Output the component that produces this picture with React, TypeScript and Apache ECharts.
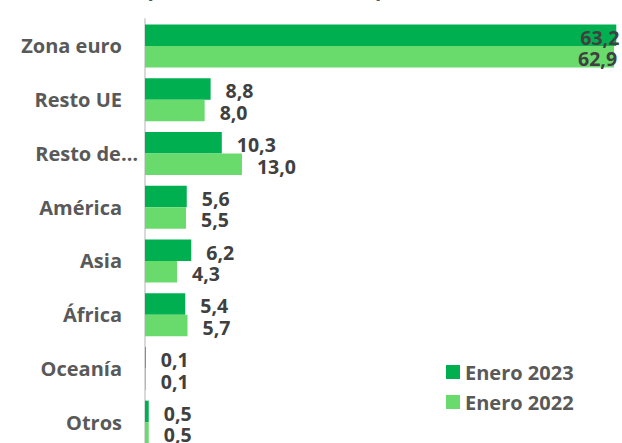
import React, { useEffect, useRef } from "react";
import * as echarts from "echarts";

const categories = ["Zona euro", "Resto UE", "Resto del mundo", "América", "Asia", "África", "Oceanía", "Otros"];
const shownCategories = ["Zona euro", "Resto UE", "Resto de…", "América", "Asia", "África", "Oceanía", "Otros"];
const enero2023 = [63.2, 8.8, 10.3, 5.6, 6.2, 5.4, 0.1, 0.5];
const enero2022 = [62.9, 8.0, 13.0, 5.5, 4.3, 5.7, 0.1, 0.5];
const seriesNames = ["Enero 2023", "Enero 2022"];
const titleParts = ["Exportaciones de bienes", "por zonas", "(% sobre total)"];

const FONT = "'Open Sans', sans-serif";

export default function App() {
  const ref = useRef<HTMLDivElement>(null);
  useEffect(() => {
    if (!ref.current) return;
    const chart = echarts.init(ref.current, undefined, { renderer: "svg" });
    const fmt = (v: number) => v.toFixed(1).replace(".", ",");
    const makeData = (arr: number[]) =>
      arr.map((v, i) =>
        i === 0
          ? { value: v, label: { position: "insideRight", distance: -3 } }
          : { value: v }
      );
    const labelCfg = {
      show: true,
      position: "right",
      distance: 15,
      offset: [0, 2],
      fontFamily: FONT,
      fontWeight: "bold",
      fontSize: 19.5,
      color: "#404040",
      formatter: (p: any) => fmt(p.value),
    };
    const titleX = [124, 375, 473];
    chart.setOption({
      animation: false,
      backgroundColor: "#ffffff",
      graphic: titleParts.map((t, i) => ({
        type: "text",
        x: titleX[i],
        y: -2,
        style: {
          text: t,
          fontFamily: FONT,
          fontWeight: "bold",
          fontSize: 20.6,
          fill: "#595959",
          verticalAlign: "bottom",
        },
      })),
      grid: { left: 145, top: 19, width: 522, height: 430, containLabel: false },
      xAxis: {
        type: "value",
        min: 0,
        max: 70,
        show: false,
      },
      yAxis: {
        type: "category",
        inverse: true,
        data: categories,
        axisLine: { show: true, lineStyle: { color: "#D9D9D9", width: 2 } },
        axisTick: { show: false },
        splitLine: { show: false },
        axisLabel: {
          margin: 7,
          formatter: (v: string) => {
            const i = categories.indexOf(v);
            const t = shownCategories[i];
            return i === 2 ? `{t|${t}}` : `{n|${t}}`;
          },
          rich: {
            t: { fontFamily: FONT, fontWeight: "bold", fontSize: 20, color: "#595959" },
            n: { fontFamily: FONT, fontWeight: "bold", fontSize: 20, color: "#595959", padding: [0, 16, 0, 0] },
          },
        },
      },
      legend: {
        orient: "vertical",
        left: 441,
        top: 357,
        itemWidth: 14,
        itemHeight: 14,
        itemGap: 10,
        icon: "rect",
        textStyle: { fontFamily: FONT, fontWeight: "bold", fontSize: 20, color: "#595959" },
        data: seriesNames,
      },
      series: [
        {
          name: seriesNames[0],
          type: "bar",
          data: makeData(enero2023),
          barWidth: 21.5,
          barGap: "0%",
          itemStyle: { color: "#00B050" },
          label: labelCfg,
        },
        {
          name: seriesNames[1],
          type: "bar",
          data: makeData(enero2022),
          barWidth: 21.5,
          barGap: "0%",
          itemStyle: { color: "#68DB6C" },
          label: labelCfg,
        },
      ],
    });
    return () => chart.dispose();
  }, []);
  return (
    <div style={{ position: "absolute", left: 0, top: 0, width: 622, height: 443, overflow: "hidden" }}>
      <div ref={ref} style={{ width: 700, height: 470 }} />
    </div>
  );
}
